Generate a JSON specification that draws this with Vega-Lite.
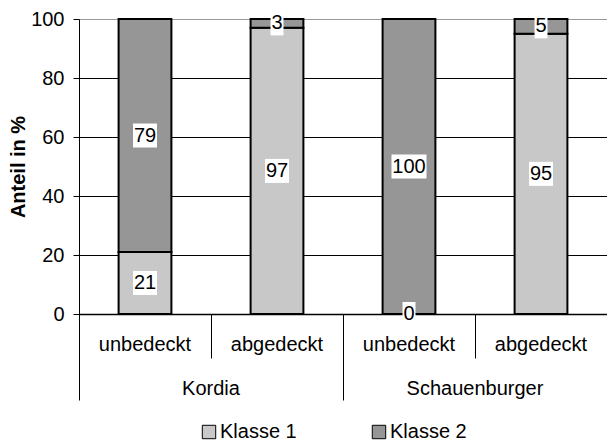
{
  "$schema": "https://vega.github.io/schema/vega-lite/v6.json",
  "width": 528,
  "height": 295,
  "autosize": "none",
  "padding": {"left": 79, "top": 19, "right": 0, "bottom": 127},
  "background": "white",
  "config": {"view": {"stroke": null}, "font": "Liberation Sans"},
  "data": {
    "values": [
      {"Gruppe": "Kordia unbedeckt", "Sorte": "Kordia", "Klasse": "Klasse 1", "Anteil": 21},
      {"Gruppe": "Kordia unbedeckt", "Sorte": "Kordia", "Klasse": "Klasse 2", "Anteil": 79},
      {"Gruppe": "Kordia abgedeckt", "Sorte": "Kordia", "Klasse": "Klasse 1", "Anteil": 97},
      {"Gruppe": "Kordia abgedeckt", "Sorte": "Kordia", "Klasse": "Klasse 2", "Anteil": 3},
      {"Gruppe": "Schauenburger unbedeckt", "Sorte": "Schauenburger", "Klasse": "Klasse 1", "Anteil": 0},
      {"Gruppe": "Schauenburger unbedeckt", "Sorte": "Schauenburger", "Klasse": "Klasse 2", "Anteil": 100},
      {"Gruppe": "Schauenburger abgedeckt", "Sorte": "Schauenburger", "Klasse": "Klasse 1", "Anteil": 95},
      {"Gruppe": "Schauenburger abgedeckt", "Sorte": "Schauenburger", "Klasse": "Klasse 2", "Anteil": 5}
    ]
  },
  "transform": [
    {"stack": "Anteil", "groupby": ["Gruppe"], "sort": [{"field": "Klasse", "order": "ascending"}], "as": ["y0", "y1"]},
    {"calculate": "(datum.y0 + datum.y1) / 2", "as": "ymid"}
  ],
  "layer": [
    {
      "layer": [
        {
          "mark": {"type": "bar", "stroke": "black", "strokeWidth": 2, "width": {"band": 0.4}},
          "encoding": {
            "x": {
              "field": "Gruppe", "type": "nominal", "sort": null,
              "scale": {"paddingInner": 0, "paddingOuter": 0},
              "axis": {
                "title": null, "labelExpr": "split(datum.label, ' ')[1]", "labelAngle": 0,
                "labelFontSize": 20, "labelColor": "black", "bandPosition": 0,
                "tickSize": 44, "tickColor": "black", "tickWidth": 1,
                "domainColor": "black", "domainWidth": 1.5,
                "labelPadding": -8, "labelBaseline": "alphabetic", "grid": false
              }
            },
            "y": {
              "field": "y0", "type": "quantitative",
              "scale": {"domain": [0, 100], "nice": false},
              "axis": {
                "title": "Anteil in %", "titleFontSize": 20, "titleFontWeight": "bold",
                "titleColor": "black", "titlePadding": 2,
                "values": [0, 20, 40, 60, 80, 100],
                "labelFontSize": 20, "labelColor": "black", "labelPadding": 9,
                "tickSize": 6, "tickColor": "black", "domainColor": "black",
                "grid": true,
                "gridColor": {"condition": {"test": "datum.value === 100", "value": "#999999"}, "value": "black"},
                "gridWidth": 1
              }
            },
            "y2": {"field": "y1"},
            "fill": {
              "field": "Klasse", "type": "nominal",
              "scale": {"domain": ["Klasse 1", "Klasse 2"], "range": ["#c8c8c8", "#969696"]},
              "legend": {
                "orient": "none", "legendX": 120, "legendY": 403, "direction": "horizontal",
                "title": null, "symbolType": "square", "symbolSize": 180,
                "symbolStrokeColor": "black", "symbolStrokeWidth": 1,
                "labelFontSize": 20, "labelColor": "black", "labelOffset": 1,
                "columnPadding": 72, "padding": 0
              }
            }
          }
        },
        {
          "mark": {"type": "tick", "color": "white", "opacity": 1, "thickness": 24, "orient": "horizontal"},
          "encoding": {
            "x": {"field": "Gruppe", "type": "nominal", "sort": null},
            "y": {"field": "ymid", "type": "quantitative"},
            "size": {
              "condition": [
                {"test": "datum.Anteil >= 100", "value": 35},
                {"test": "datum.Anteil < 10", "value": 13}
              ],
              "value": 24
            }
          }
        },
        {
          "mark": {"type": "text", "fontSize": 20, "color": "black", "baseline": "middle"},
          "encoding": {
            "x": {"field": "Gruppe", "type": "nominal", "sort": null},
            "y": {"field": "ymid", "type": "quantitative"},
            "text": {"field": "Anteil", "type": "quantitative"}
          }
        }
      ]
    },
    {
      "mark": {"type": "rule", "opacity": 0},
      "encoding": {
        "x": {
          "field": "Sorte", "type": "nominal", "sort": null,
          "scale": {"paddingInner": 0, "paddingOuter": 0},
          "axis": {
            "orient": "bottom", "title": null, "labelAngle": 0, "labelFontSize": 20,
            "labelColor": "black", "bandPosition": 0, "tickSize": 86, "tickColor": "black",
            "tickWidth": 1, "domain": false, "labelPadding": -6, "labelBaseline": "alphabetic",
            "grid": false
          }
        }
      }
    }
  ],
  "resolve": {"scale": {"x": "independent"}}
}
